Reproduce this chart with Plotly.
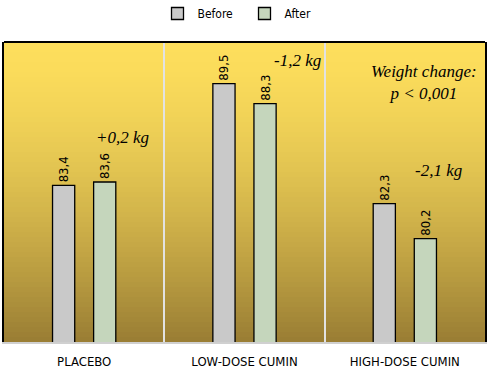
import plotly.graph_objects as go

categories = ["PLACEBO", "LOW-DOSE CUMIN", "HIGH-DOSE CUMIN"]
before = [83.4, 89.5, 82.3]
after = [83.6, 88.3, 80.2]
changes = ["+0,2 kg", "-1,2 kg", "-2,1 kg"]
series_names = ["Before", "After"]

fmt = lambda v: f"{v:.1f}".replace(".", ",")

cond = "DejaVu Sans Condensed, Liberation Sans Narrow, DejaVu Sans"
script = "Liberation Serif, DejaVu Serif"

fig = go.Figure()
fig.add_trace(go.Bar(
    name=series_names[0], x=categories, y=before,
    text=[fmt(v) for v in before], textposition="outside", textangle=-90,
    textfont=dict(family=cond, size=13, color="black"), constraintext="none",
    marker=dict(color="#C9C9C9", line=dict(color="black", width=1.3)),
    cliponaxis=False,
))
fig.add_trace(go.Bar(
    name=series_names[1], x=categories, y=after,
    text=[fmt(v) for v in after], textposition="outside", textangle=-90,
    textfont=dict(family=cond, size=13, color="black"), constraintext="none",
    marker=dict(color="#C5D6BC", line=dict(color="black", width=1.3)),
    cliponaxis=False,
))

# vertical gradient background (styling only)
top = (253, 222, 92)
bot = (154, 126, 52)
n = 60
shapes = []
for i in range(n):
    t = (i / (n - 1)) ** 1.5
    c = tuple(round(top[k] + (bot[k] - top[k]) * t) for k in range(3))
    shapes.append(dict(type="rect", xref="paper", yref="paper",
                       x0=0, x1=1, y0=max(0, 1 - (i + 1) / n - 0.004), y1=1 - i / n,
                       fillcolor=f"rgb{c}", line=dict(width=0), layer="below"))
shapes.append(dict(type="line", xref="paper", yref="paper", x0=0, x1=1, y0=1, y1=1,
                   line=dict(color="black", width=2)))

annots = []
offsets = [(0.24, 86.3), (0.33, 90.9), (0.21, 84.3)]
for i, ch in enumerate(changes):
    annots.append(dict(x=i + offsets[i][0], y=offsets[i][1], xref="x", yref="y",
                       text=ch, showarrow=False,
                       font=dict(family=script, size=17, color="black", style="italic")))
annots.append(dict(x=2.12, y=89.55, xref="x", yref="y",
                   text="Weight change:<br>p < 0,001", showarrow=False,
                   font=dict(family=script, size=17, color="black", style="italic")))

fig.update_layout(
    width=490, height=376,
    margin=dict(l=4, r=5, t=42, b=34, autoexpand=False),
    paper_bgcolor="white", plot_bgcolor="rgba(0,0,0,0)",
    barmode="group", bargap=0.4875, bargroupgap=0.46,
    shapes=shapes, annotations=annots,
    showlegend=True,
    legend=dict(orientation="h", x=0.5, xanchor="center", y=1.095, yanchor="middle",
                font=dict(family=cond, size=12, color="black"),
                itemwidth=30, traceorder="normal", entrywidth=42),
    font=dict(family=cond, color="black"),
)
fig.update_xaxes(
    tickson="boundaries", showgrid=True, gridcolor="#E2E2E2", gridwidth=2,
    ticks="", showline=True, linecolor="#D0D0D0", linewidth=2,
    tickfont=dict(family=cond, size=13, color="black"), automargin=False,
    ticklabelstandoff=6,
)
fig.update_yaxes(
    range=[74, 92], showgrid=False, showticklabels=False, ticks="",
    showline=True, mirror=True, linecolor="black", linewidth=2, zeroline=False,
    automargin=False,
)

fig.write_html("out.html", config={"displayModeBar": False},
               post_script="document.body.style.margin='0';document.body.style.overflow='hidden';")
